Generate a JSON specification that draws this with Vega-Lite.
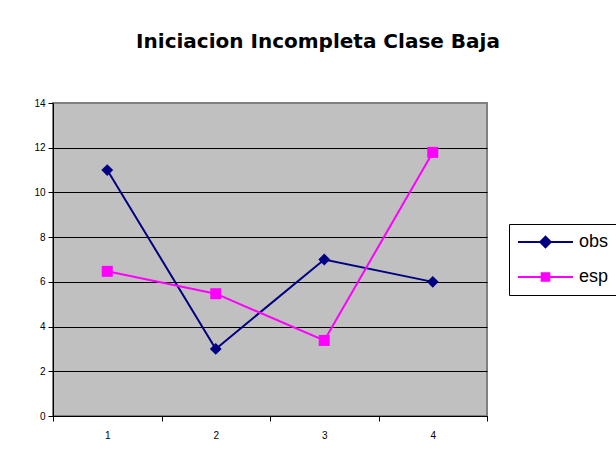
{
  "$schema": "https://vega.github.io/schema/vega-lite/v6.json",
  "autosize": "none",
  "width": 434,
  "height": 313,
  "padding": {"left": 53, "top": 103, "right": 129, "bottom": 45},
  "background": "white",
  "title": {
    "text": "Iniciacion Incompleta Clase Baja",
    "font": "DejaVu Sans",
    "fontSize": 20,
    "fontWeight": "bold",
    "color": "black",
    "anchor": "middle",
    "frame": "group",
    "dx": 48,
    "baseline": "bottom",
    "offset": 26
  },
  "data": {
    "values": [
      {"x": "1", "serie": "obs", "v": 11},
      {"x": "2", "serie": "obs", "v": 3},
      {"x": "3", "serie": "obs", "v": 7},
      {"x": "4", "serie": "obs", "v": 6},
      {"x": "1", "serie": "esp", "v": 6.47},
      {"x": "2", "serie": "esp", "v": 5.47},
      {"x": "3", "serie": "esp", "v": 3.38},
      {"x": "4", "serie": "esp", "v": 11.79}
    ]
  },
  "encoding": {
    "x": {
      "field": "x",
      "type": "ordinal",
      "scale": {"type": "band", "paddingInner": 0, "paddingOuter": 0},
      "axis": {
        "title": null,
        "labelAngle": 0,
        "tickBand": "extent",
        "tickSize": 5,
        "tickColor": "black",
        "domainColor": "black",
        "labelPadding": 9,
        "labelFontSize": 10,
        "labelColor": "black",
        "grid": false
      }
    },
    "y": {
      "field": "v",
      "type": "quantitative",
      "scale": {"domain": [0, 14], "nice": false, "zero": true},
      "axis": {
        "title": null,
        "values": [0, 2, 4, 6, 8, 10, 12, 14],
        "tickSize": 5,
        "tickColor": "black",
        "domainColor": "black",
        "labelPadding": 3,
        "labelFontSize": 10,
        "labelColor": "black",
        "grid": true,
        "gridColor": {"condition": {"test": "datum.value === 14", "value": "#808080"}, "value": "#000000"},
        "gridWidth": 1,
        "gridOpacity": 1
      }
    },
    "color": {
      "field": "serie",
      "type": "nominal",
      "scale": {"domain": ["obs", "esp"], "range": ["#000080", "#FF00FF"]},
      "legend": {
        "title": null,
        "orient": "none",
        "legendX": 456,
        "legendY": 121,
        "strokeColor": "black",
        "fillColor": "white",
        "padding": 8,
        "labelFontSize": 18,
        "labelColor": "black",
        "labelOffset": 5,
        "symbolSize": 3025,
        "symbolStrokeWidth": 2,
        "clipHeight": 20,
        "rowPadding": 15,
        "encode": {
          "symbols": {
            "update": {
              "shape": {"signal": "datum.value === 'obs' ? 'M-1,0L1,0M0,-0.19L0.19,0L0,0.19L-0.19,0Z' : 'M-1,0L1,0M-0.14,-0.14L0.14,-0.14L0.14,0.14L-0.14,0.14Z'"},
              "fill": {"scale": "color", "field": "value"},
              "stroke": {"scale": "color", "field": "value"},
              "strokeWidth": {"value": 2},
              "opacity": {"value": 1}
            }
          }
        }
      }
    }
  },
  "layer": [
    {
      "mark": {"type": "line", "strokeWidth": 2}
    },
    {
      "transform": [{"filter": "datum.serie === 'obs'"}],
      "mark": {"type": "point", "shape": "diamond", "filled": true, "opacity": 1, "size": 140}
    },
    {
      "transform": [{"filter": "datum.serie === 'esp'"}],
      "mark": {"type": "point", "shape": "square", "filled": true, "opacity": 1, "size": 121}
    }
  ],
  "config": {
    "font": "Liberation Sans",
    "view": {"fill": "#C0C0C0", "stroke": "#808080", "strokeWidth": 2}
  }
}
